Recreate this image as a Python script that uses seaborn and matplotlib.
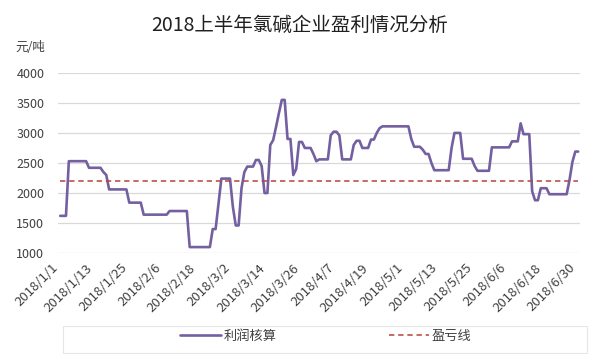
import matplotlib
matplotlib.use('Agg')

import matplotlib.pyplot as plt
import matplotlib.patches as mpatches
import pandas as pd
import seaborn as sns

# 2018上半年 每日利润核算 (元/吨)
profit = [
    1620, 1620, 1620, 2530, 2530, 2530, 2530, 2530, 2530, 2530,
    2420, 2420, 2420, 2420, 2420, 2350, 2300, 2060, 2060, 2060,
    2060, 2060, 2060, 2060, 1840, 1840, 1840, 1840, 1840, 1640,
    1640, 1640, 1640, 1640, 1640, 1640, 1640, 1640, 1700, 1700,
    1700, 1700, 1700, 1700, 1700, 1100, 1100, 1100, 1100, 1100,
    1100, 1100, 1100, 1400, 1400, 1820, 2240, 2240, 2240, 2240,
    1770, 1460, 1460, 2080, 2350, 2440, 2440, 2440, 2550, 2550,
    2450, 2000, 2000, 2800, 2880, 3100, 3330, 3550, 3550, 2900,
    2900, 2300, 2400, 2850, 2850, 2750, 2750, 2750, 2650, 2530,
    2560, 2560, 2560, 2560, 2960, 3020, 3020, 2960, 2560, 2560,
    2560, 2560, 2800, 2870, 2870, 2750, 2750, 2750, 2890, 2890,
    3000, 3080, 3110, 3110, 3110, 3110, 3110, 3110, 3110, 3110,
    3110, 3110, 2900, 2770, 2770, 2770, 2720, 2650, 2650, 2500,
    2380, 2380, 2380, 2380, 2380, 2380, 2750, 3000, 3000, 3000,
    2570, 2570, 2570, 2570, 2450, 2370, 2370, 2370, 2370, 2370,
    2760, 2760, 2760, 2760, 2760, 2760, 2760, 2860, 2860, 2860,
    3160, 2980, 2980, 2980, 2030, 1880, 1880, 2080, 2080, 2080,
    1980, 1980, 1980, 1980, 1980, 1980, 1980, 2220, 2520, 2690,
    2690,
]
breakeven = 2200

tick_labels = ['2018/1/1', '2018/1/13', '2018/1/25', '2018/2/6', '2018/2/18',
               '2018/3/2', '2018/3/14', '2018/3/26', '2018/4/7', '2018/4/19',
               '2018/5/1', '2018/5/13', '2018/5/25', '2018/6/6', '2018/6/18',
               '2018/6/30']
y_ticks = [1000, 1500, 2000, 2500, 3000, 3500, 4000]

sns.set_theme(style='white')
plt.rcParams['font.family'] = ['Noto Sans CJK SC', 'DejaVu Sans']

df = pd.DataFrame({'day': range(len(profit)), 'profit': profit})
df['breakeven'] = breakeven

fig = plt.figure(figsize=(6, 3.59), dpi=100)
ax = fig.add_axes([0.097, 0.295, 0.870, 0.502])

line_color = '#7460a0'
dash_color = '#b6433f'

sns.lineplot(data=df, x='day', y='profit', ax=ax, color=line_color,
             linewidth=1.9, label='利润核算')
sns.lineplot(data=df, x='day', y='breakeven', ax=ax, color=dash_color,
             linewidth=1.1, linestyle=(0, (3.5, 2.5)), label='盈亏线')

ax.set_xlim(-0.7, len(profit) - 0.3)
ax.set_ylim(1000, 4000)
ax.set_yticks(y_ticks)
ax.set_yticklabels([str(v) for v in y_ticks], fontsize=9, color='#404040')
ax.set_xticks(range(0, len(profit), 12))
ax.set_xticklabels(tick_labels, rotation=45, ha='right', fontsize=9.5,
                   color='#404040')
ax.tick_params(axis='both', length=0)
ax.tick_params(axis='x', pad=6)
ax.tick_params(axis='y', pad=10)
ax.grid(axis='y', color='#d9d9d9', linewidth=0.9)
ax.set_axisbelow(True)
for s in ax.spines.values():
    s.set_visible(False)
ax.set_xlabel('')
ax.set_ylabel('')

fig.text(0.5, 0.93, '2018上半年氯碱企业盈利情况分析', ha='center', va='center',
         fontsize=14, color='#202020')
fig.text(0.025, 0.868, '元/吨', ha='left', va='center', fontsize=9,
         color='#404040')

handles, labels = ax.get_legend_handles_labels()
ax.get_legend().remove()
fig.legend(handles, labels, loc='center', bbox_to_anchor=(0.543, 0.063),
           ncol=2, frameon=False, fontsize=9.5, handlelength=3.1,
           handletextpad=0.2, columnspacing=8.5, labelcolor='#404040')
fig.patches.append(mpatches.Rectangle((0.105, 0.017), 0.873, 0.075,
                                      transform=fig.transFigure, fill=False,
                                      edgecolor='#e6e6e6', linewidth=0.8))

fig.savefig('out.png', dpi=100)
